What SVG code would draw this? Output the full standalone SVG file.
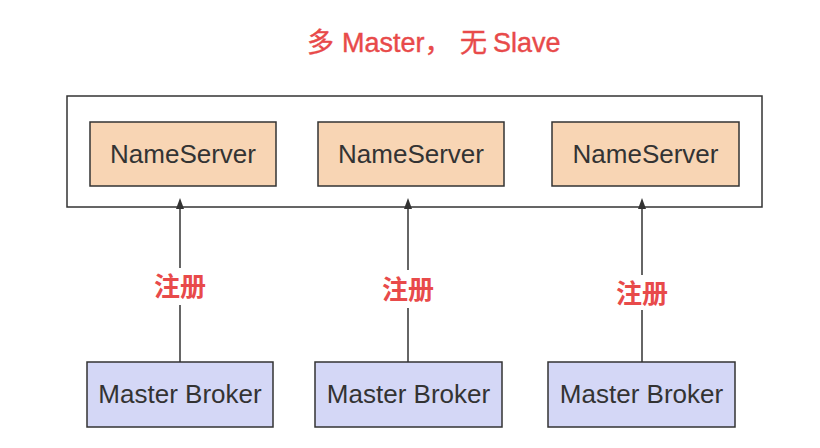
<svg xmlns="http://www.w3.org/2000/svg" width="820" height="448" viewBox="0 0 820 448">
<defs>
<marker id="arr" markerWidth="10" markerHeight="11" refX="5" refY="10" orient="0" markerUnits="userSpaceOnUse">
<path d="M5 0 L9 11 L1 11 Z" fill="#333"/>
</marker>
</defs>
<style>
.box{stroke:#333;stroke-width:1.5}
.ns{fill:#F8D5B4}
.mb{fill:#D4D7F6}
.t{font-family:"Liberation Sans","Noto Sans CJK SC",sans-serif;font-size:26px;fill:#333;text-anchor:middle}
.red{font-family:"Liberation Sans","Noto Sans CJK SC",sans-serif;fill:#E84A4A}
.lbl{font-size:26px;font-weight:bold;text-anchor:middle}
.ln{stroke:#333;stroke-width:1.5;fill:none}
</style>
<rect width="820" height="448" fill="#fff"/>
<text id="title" class="red" font-size="27" y="52" stroke="#E84A4A" stroke-width="0.4"><tspan x="307">多</tspan><tspan x="342">Master，</tspan><tspan x="460">无</tspan><tspan x="493">Slave</tspan></text>
<g id="cluster">
<rect x="67" y="96" width="695" height="111" fill="#fff" class="box"/>
</g>
<g id="ns1"><rect class="box ns" x="90" y="122" width="186" height="64"/><text class="t" x="183" y="163">NameServer</text></g>
<g id="ns2"><rect class="box ns" x="318" y="122" width="186" height="64"/><text class="t" x="411" y="163">NameServer</text></g>
<g id="ns3"><rect class="box ns" x="552" y="122" width="187" height="64"/><text class="t" x="645.5" y="163">NameServer</text></g>
<g id="mb1"><rect class="box mb" x="87" y="362" width="186" height="65"/><text class="t" x="180" y="403">Master Broker</text></g>
<g id="mb2"><rect class="box mb" x="315" y="362" width="187" height="65"/><text class="t" x="408.5" y="403">Master Broker</text></g>
<g id="mb3"><rect class="box mb" x="548" y="362" width="187" height="65"/><text class="t" x="641.5" y="403">Master Broker</text></g>
<g id="connectors">
<path class="ln" d="M180 362 V305"/><path class="ln" d="M180 268 V208" marker-end="url(#arr)"/>
<text class="red lbl" x="180" y="296">注册</text>
<path class="ln" d="M408 362 V308"/><path class="ln" d="M408 270 V208" marker-end="url(#arr)"/>
<text class="red lbl" x="408" y="299">注册</text>
<path class="ln" d="M642 362 V310"/><path class="ln" d="M642 275 V208" marker-end="url(#arr)"/>
<text class="red lbl" x="642" y="303">注册</text>
</g>
</svg>
